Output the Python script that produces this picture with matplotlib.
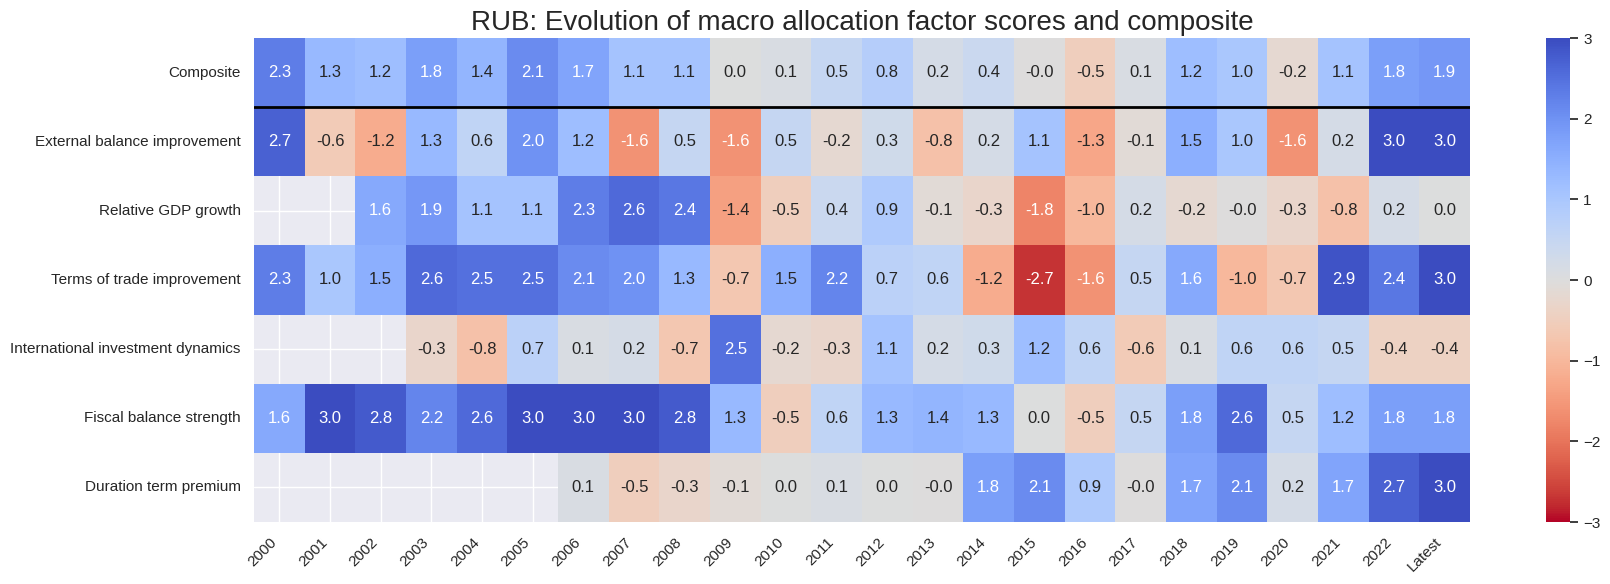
import numpy as np
import pandas as pd
import matplotlib
matplotlib.use("Agg")
import matplotlib.pyplot as plt
import seaborn as sns

nan = np.nan
years = [str(y) for y in range(2000, 2023)] + ["Latest"]
factors = ["Composite", "External balance improvement", "Relative GDP growth",
           "Terms of trade improvement", "International investment dynamics",
           "Fiscal balance strength", "Duration term premium"]

composite = [2.3, 1.3, 1.2, 1.8, 1.4, 2.1, 1.7, 1.1, 1.1, 0.0, 0.1, 0.5, 0.8, 0.2, 0.4, -0.01, -0.5, 0.1, 1.2, 1.0, -0.2, 1.1, 1.8, 1.9]
external = [2.7, -0.6, -1.2, 1.3, 0.6, 2.0, 1.2, -1.6, 0.5, -1.6, 0.5, -0.2, 0.3, -0.8, 0.2, 1.1, -1.3, -0.1, 1.5, 1.0, -1.6, 0.2, 3.0, 3.0]
gdp = [nan, nan, 1.6, 1.9, 1.1, 1.1, 2.3, 2.6, 2.4, -1.4, -0.5, 0.4, 0.9, -0.1, -0.3, -1.8, -1.0, 0.2, -0.2, -0.01, -0.3, -0.8, 0.2, 0.0]
tot = [2.3, 1.0, 1.5, 2.6, 2.5, 2.5, 2.1, 2.0, 1.3, -0.7, 1.5, 2.2, 0.7, 0.6, -1.2, -2.7, -1.6, 0.5, 1.6, -1.0, -0.7, 2.9, 2.4, 3.0]
iid = [nan, nan, nan, -0.3, -0.8, 0.7, 0.1, 0.2, -0.7, 2.5, -0.2, -0.3, 1.1, 0.2, 0.3, 1.2, 0.6, -0.6, 0.1, 0.6, 0.6, 0.5, -0.4, -0.4]
fiscal = [1.6, 3.0, 2.8, 2.2, 2.6, 3.0, 3.0, 3.0, 2.8, 1.3, -0.5, 0.6, 1.3, 1.4, 1.3, 0.0, -0.5, 0.5, 1.8, 2.6, 0.5, 1.2, 1.8, 1.8]
duration = [nan, nan, nan, nan, nan, nan, 0.1, -0.5, -0.3, -0.1, 0.0, 0.1, 0.0, -0.01, 1.8, 2.1, 0.9, -0.01, 1.7, 2.1, 0.2, 1.7, 2.7, 3.0]

df = pd.DataFrame([composite, external, gdp, tot, iid, fiscal, duration],
                  index=factors, columns=years)

sns.set_theme(style="darkgrid")
plt.rcParams['font.family'] = ['Liberation Sans', 'DejaVu Sans']

fig = plt.figure(figsize=(16.1, 5.84), dpi=100)
ax = fig.add_axes([254/1610, 1-522/584, (1470-254)/1610, (522-38)/584])
cax = fig.add_axes([1546/1610, 1-522/584, 24/1610, (522-38)/584])

sns.heatmap(df, ax=ax, cbar_ax=cax, cmap="coolwarm_r", vmin=-3, vmax=3,
            annot=True, fmt=".1f", annot_kws={"fontsize": 12})
ax.axhline(1, color="black", linewidth=2)
ax.set_title("RUB: Evolution of macro allocation factor scores and composite", fontsize=20)
ax.set_xticklabels(ax.get_xticklabels(), rotation=45, ha="right", rotation_mode="default")
ax.set_yticklabels(ax.get_yticklabels(), rotation=0)
ax.set_xlabel("")
ax.set_ylabel("")
ax.tick_params(axis="both", labelsize=11)
cax.tick_params(labelsize=11)

fig.savefig("out.png", dpi=100)
